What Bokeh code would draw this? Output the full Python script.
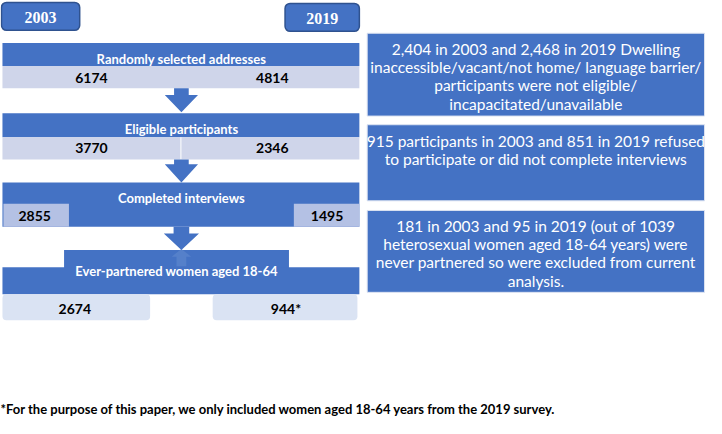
from bokeh.plotting import figure
from bokeh.embed import file_html
from bokeh.resources import INLINE
from bokeh.core.properties import value
from bokeh.models import Range1d

# ---------------- data ----------------
years = ["2003", "2019"]
stages = ["Randomly selected addresses", "Eligible participants",
          "Completed interviews", "Ever-partnered women aged 18-64"]
n_2003 = [6174, 3770, 2855, 2674]
n_2019 = [4814, 2346, 1495, 944]
n_2019_mark = ["", "", "", "*"]
exclusion_notes = [
    ["2,404 in 2003 and 2,468 in 2019 Dwelling",
     "inaccessible/vacant/not home/ language barrier/",
     "participants were not eligible/",
     "incapacitated/unavailable"],
    ["915 participants in 2003 and 851 in 2019 refused",
     "to participate or did not complete interviews"],
    ["181 in 2003 and 95 in 2019 (out of 1039",
     "heterosexual women aged 18-64 years) were",
     "never partnered so were excluded from current",
     "analysis."],
]
footnote = "*For the purpose of this paper, we only included women aged 18-64 years from the 2019 survey."

# ---------------- styles / layout (reference pixel space) ----------------
BLUE = "#4472C4"
DARK = "#2F528F"
LIGHT = "#CFD5EA"
LIGHT2 = "#DAE3F3"
SIDE = "#B4C1E4"
FONT = value("Lato")

p = figure(width=706, height=418, output_backend="svg", toolbar_location=None,
           x_range=Range1d(0, 722), y_range=Range1d(434, 0))
p.axis.visible = False
p.grid.visible = False
p.outline_line_color = None
p.min_border = 0
p.background_fill_color = "white"

def box(l, r, t, b, fill, line=None, radius=0, lw=1):
    kw = dict(left=[l], right=[r], top=[t], bottom=[b], fill_color=fill,
              line_color=line, line_width=lw)
    if radius:
        kw["border_radius"] = radius
    p.quad(**kw)

def txt(x, y, s, size, color="white", bold=True, font=FONT, align="center"):
    p.text(x=[x], y=[y], text=[s], text_font=font, text_font_size=f"{size}px",
           text_font_style="bold" if bold else "normal", text_color=color,
           text_align=align, text_baseline="middle")

def arrow(cx, y0, y1, y2, sw, hw, color=BLUE):
    xs = [cx - sw / 2, cx + sw / 2, cx + sw / 2, cx + hw / 2, cx, cx - hw / 2, cx - sw / 2]
    ys = [y0, y0, y1, y1, y2, y1, y1]
    p.patch(xs, ys, fill_color=color, line_color=None)

# year boxes
year_geo = [(1, 81, 2, 31), (291, 367, 3, 32)]
for (l, r, t, b), yr in zip(year_geo, years):
    box(l, r, t, b, BLUE, DARK, radius=5, lw=1.5)
    txt((l + r) / 2, (t + b) / 2 + 1, yr, 16, font=value("Liberation Serif"))

# stage 1
box(2, 367, 44, 68, BLUE)
box(2, 367, 68, 91, LIGHT)
txt(185, 61, stages[0], 13)
txt(93, 80, f"{n_2003[0]}", 14, "black")
txt(278, 80, f"{n_2019[0]}{n_2019_mark[0]}", 14, "black")
arrow(185, 91, 98, 116, 15, 34)

# stage 2
box(2, 367, 117, 142, BLUE)
box(2, 367, 142, 165, LIGHT)
p.segment(x0=[184.5], y0=[142], x1=[184.5], y1=[165], line_color="white", line_width=1)
txt(185, 133, stages[1], 13)
txt(93, 153, f"{n_2003[1]}", 14, "black")
txt(278, 153, f"{n_2019[1]}{n_2019_mark[1]}", 14, "black")
arrow(185, 165, 170, 189, 15, 34)

# stage 3
box(2, 367, 189, 235, BLUE)
box(3, 70, 211, 235, SIDE)
box(300, 367, 211, 235, SIDE)
txt(185, 205, stages[2], 13)
txt(35, 224, f"{n_2003[2]}", 14, "black")
txt(334, 224, f"{n_2019[2]}{n_2019_mark[2]}", 14, "black")
arrow(185, 235, 242, 259, 16, 36)

# stage 4
box(65, 295, 259, 278, BLUE)
box(2, 367, 277, 305, BLUE)
arrow(185, 276, 266, 258, 10, 20, color="#5580CA")
txt(180, 281, stages[3], 13)
box(2, 153, 305, 332, LIGHT2, radius=4)
box(217, 365, 305, 332, LIGHT2, radius=4)
txt(76, 320, f"{n_2003[3]}", 14, "black")
txt(292, 320, f"{n_2019[3]}{n_2019_mark[3]}", 14, "black")

# exclusion boxes
note_geo = [(375, 720, 34, 120), (375, 720, 129, 208), (375, 720, 218, 303)]
note_top = [50, 146, 234]
for (l, r, t, b), lines, y0 in zip(note_geo, exclusion_notes, note_top):
    box(l, r, t, b, BLUE, "#DCE3F1", lw=1)
    for i, s in enumerate(lines):
        txt((l + r) / 2, y0 + i * 19, s, 15.5, bold=False)

# footnote
txt(0, 424, footnote, 13, "black", align="left")

open("out.html", "w").write(file_html(p, INLINE))
